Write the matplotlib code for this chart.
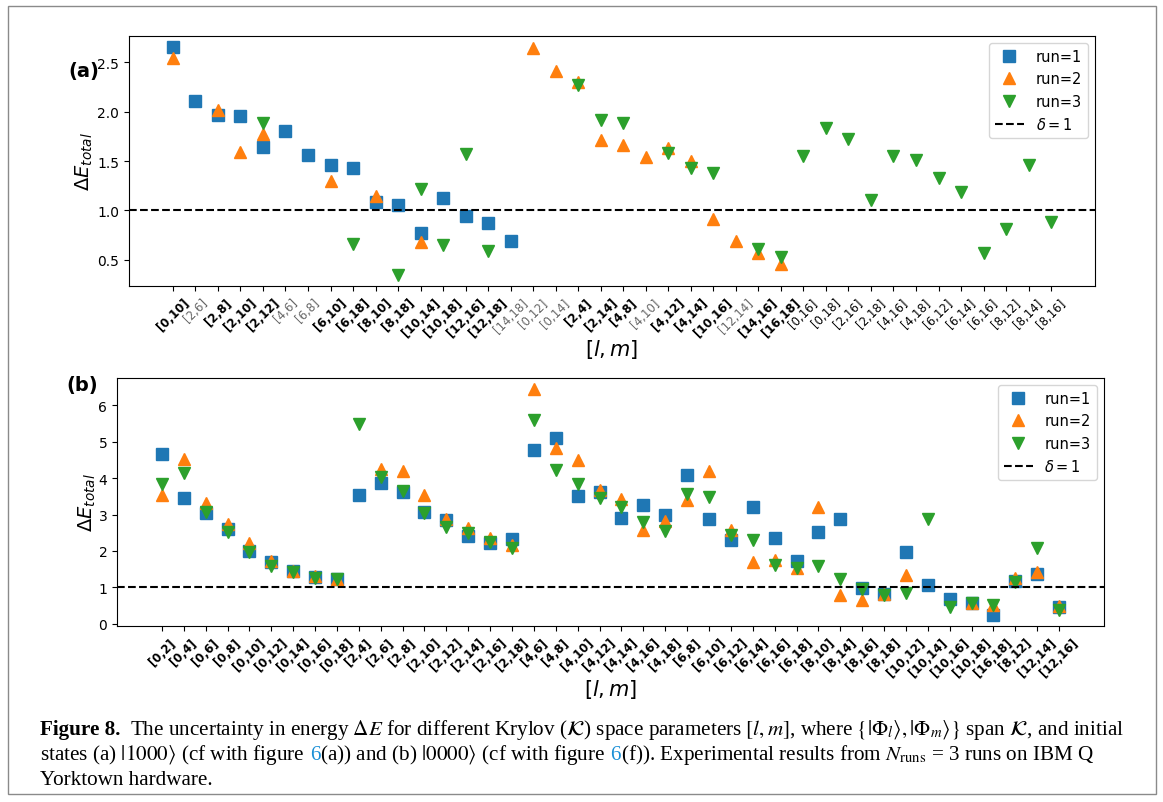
import numpy as np
import matplotlib
matplotlib.use("Agg")
import matplotlib.pyplot as plt
from matplotlib.patches import Rectangle
from matplotlib.transforms import IdentityTransform

nan = np.nan

# ---------------- data: panel (a), initial state |1000> ----------------
labels_a = ["[0,10]", "[2,6]", "[2,8]", "[2,10]", "[2,12]", "[4,6]", "[6,8]", "[6,10]",
            "[6,18]", "[8,10]", "[8,18]", "[10,14]", "[10,18]", "[12,16]", "[12,18]", "[14,18]",
            "[0,12]", "[0,14]", "[2,4]", "[2,14]", "[4,8]", "[4,10]", "[4,12]", "[4,14]",
            "[10,16]", "[12,14]", "[14,16]", "[16,18]", "[0,16]", "[0,18]", "[2,16]", "[2,18]",
            "[4,16]", "[4,18]", "[6,12]", "[6,14]", "[6,16]", "[8,12]", "[8,14]", "[8,16]"]
run1_a = [2.65, 2.11, 1.97, 1.96, 1.64, 1.80, 1.56, 1.46, 1.43, 1.09, 1.05, 0.77, 1.13, 0.94, 0.87, 0.69,
          nan, nan, nan, nan, nan, nan, nan, nan, nan, nan, nan, nan,
          nan, nan, nan, nan, nan, nan, nan, nan, nan, nan, nan, nan]
run2_a = [2.54, nan, 2.02, 1.59, 1.77, nan, nan, 1.30, nan, 1.15, nan, 0.68, nan, nan, nan, nan,
          2.64, 2.41, 2.30, 1.71, 1.66, 1.54, 1.63, 1.50, 0.91, 0.69, 0.57, 0.46,
          nan, nan, nan, nan, nan, nan, nan, nan, nan, nan, nan, nan]
run3_a = [nan, nan, nan, nan, 1.88, nan, nan, nan, 0.66, nan, 0.35, 1.22, 0.65, 1.57, 0.59, nan,
          nan, nan, 2.27, 1.91, 1.88, nan, 1.58, 1.43, 1.38, nan, 0.61, 0.53,
          1.55, 1.83, 1.72, 1.11, 1.55, 1.51, 1.33, 1.19, 0.57, 0.81, 1.46, 0.88]

# ---------------- data: panel (b), initial state |0000> ----------------
labels_b = ["[0,2]", "[0,4]", "[0,6]", "[0,8]", "[0,10]", "[0,12]", "[0,14]", "[0,16]", "[0,18]",
            "[2,4]", "[2,6]", "[2,8]", "[2,10]", "[2,12]", "[2,14]", "[2,16]", "[2,18]",
            "[4,6]", "[4,8]", "[4,10]", "[4,12]", "[4,14]", "[4,16]", "[4,18]",
            "[6,8]", "[6,10]", "[6,12]", "[6,14]", "[6,16]", "[6,18]",
            "[8,10]", "[8,14]", "[8,16]", "[8,18]", "[10,12]", "[10,14]", "[10,16]", "[10,18]",
            "[16,18]", "[8,12]", "[12,14]", "[12,16]"]
run1_b = [4.65, 3.45, 3.04, 2.60, 2.01, 1.69, 1.44, 1.29, 1.23, 3.54, 3.88, 3.63, 3.06, 2.86, 2.42, 2.21, 2.33,
          4.77, 5.11, 3.52, 3.63, 2.90, 3.27, 3.00, 4.10, 2.89, 2.30, 3.22, 2.36, 1.72,
          2.51, 2.89, 0.99, 0.82, 1.97, 1.07, 0.68, 0.57, 0.25, 1.17, 1.38, 0.45]
run2_b = [3.53, 4.52, 3.33, 2.73, 2.21, 1.72, 1.46, 1.32, 1.23, nan, 4.26, 4.19, 3.55, 2.88, 2.64, 2.37, 2.17,
          6.44, 4.84, 4.49, 3.68, 3.42, 2.58, 2.83, 3.40, 4.20, 2.57, 1.71, 1.74, 1.53,
          3.22, 0.78, 0.66, 0.82, 1.34, nan, nan, 0.58, 0.52, 1.26, 1.42, 0.48]
run3_b = [3.85, 4.13, 3.06, 2.53, 1.98, 1.60, 1.42, 1.26, 1.23, 5.50, 4.02, 3.66, 3.04, 2.65, 2.49, 2.24, 2.08,
          5.60, 4.23, 3.85, 3.45, 3.22, 2.80, 2.54, 3.56, 3.49, 2.45, 2.30, 1.62, 1.54,
          1.60, 1.23, 0.96, 0.80, 0.84, 2.88, 0.46, 0.57, 0.52, 1.14, 2.07, 0.37]

delta = 1.0

W, H = 1163, 803
fig = plt.figure(figsize=(W / 100, H / 100), dpi=100)
fig.patch.set_facecolor("white")

# figure frame
fig.add_artist(Rectangle((8 / W, 8 / H), (1156 - 8) / W, (796 - 8) / H,
                         transform=fig.transFigure, fill=False, edgecolor="#8a8a8a", lw=1.0))


def px_axes(l, r, t, b):
    return fig.add_axes([l / W, 1 - b / H, (r - l) / W, (b - t) / H])


ax_a = px_axes(129, 1095, 37, 287)
ax_b = px_axes(117, 1104, 379, 627)

ms = 8
for ax, labels, r1, r2, r3 in [(ax_a, labels_a, run1_a, run2_a, run3_a),
                               (ax_b, labels_b, run1_b, run2_b, run3_b)]:
    x = np.arange(len(labels))
    ax.plot(x, r1, ls="none", marker="s", ms=ms, color="tab:blue", label="run=1")
    ax.plot(x, r2, ls="none", marker="^", ms=ms, color="tab:orange", label="run=2")
    ax.plot(x, r3, ls="none", marker="v", ms=ms, color="tab:green", label="run=3")
    ax.axhline(delta, color="black", ls="--", lw=1.5, label=r"$\delta=1$")
    ax.set_xticks(x)
    ax.set_xticklabels(labels, rotation=45, fontsize=8.5)
    ax.set_xlim(-0.05 * (len(x) - 1), (len(x) - 1) * 1.05)
    ax.set_xlabel(r"$[l, m]$", fontsize=15)
    ax.set_ylabel(r"$\Delta E_{total}$", fontsize=14)
    ax.tick_params(axis="y", labelsize=10)
    ax.legend(loc="upper right", fontsize=10.5, handlelength=2.0)

ax_a.set_yticks([0.5, 1.0, 1.5, 2.0, 2.5])
ax_b.set_yticks([0, 1, 2, 3, 4, 5, 6])

# tick label appearance in (a): labels repeated by several runs look heavier
for tl, a, b, c in zip(ax_a.get_xticklabels(), run1_a, run2_a, run3_a):
    n = sum(not np.isnan(v) for v in (a, b, c))
    if n >= 2:
        tl.set_fontweight("bold")
    elif not np.isnan(c):
        tl.set_color("black")
    else:
        tl.set_color("#666666")
for tl in ax_b.get_xticklabels():
    tl.set_fontweight("bold")

ax_a.yaxis.set_label_coords(-0.035, 0.5)
ax_b.yaxis.set_label_coords(-0.019, 0.5)
ax_a.xaxis.set_label_coords(0.5, -0.205)
ax_b.xaxis.set_label_coords(0.5, -0.205)

fig.text(68 / W, 1 - 72 / H, "(a)", fontsize=14, fontweight="bold", va="center")
fig.text(66 / W, 1 - 386 / H, "(b)", fontsize=14, fontweight="bold", va="center")

# ---------------- caption ----------------
plt.rcParams["mathtext.fontset"] = "stix"
renderer = fig.canvas.get_renderer()
cap_font = "Liberation Serif"
link = "#1a8fd6"

line1 = [("Figure 8.", "black", "bold", 0.45),
         (r"The uncertainty in energy $\Delta E$ for different Krylov ($\mathcal{K}$) space parameters "
          r"$[l, m]$, where $\{|\Phi_l\rangle, |\Phi_m\rangle\}$ span $\mathcal{K}$, and initial",
          "black", "normal", 0.0)]
line2 = [(r"states (a) $|1000\rangle$ (cf with figure", "black", "normal", 0.25),
         ("6", link, "normal", 0.0),
         (r"(a)) and (b) $|0000\rangle$ (cf with figure", "black", "normal", 0.25),
         ("6", link, "normal", 0.0),
         (r"(f)). Experimental results from $N_{\rm runs}$ = 3 runs on IBM Q", "black", "normal", 0.0)]
line3 = [("Yorktown hardware.", "black", "normal", 0.0)]


def draw_line(pieces, x0, ybase, size):
    x = x0
    arts = []
    for txt, col, wt, gap in pieces:
        t = fig.text(x, ybase, txt, transform=IdentityTransform(), fontsize=size,
                     family=cap_font, color=col, fontweight=wt, va="baseline", ha="left")
        arts.append(t)
        w = t.get_window_extent(renderer).width
        x += w + gap * size * 100 / 72
    return arts, x - x0


size0 = 14
arts, wid = draw_line(line1, 40, H - 735, size0)
for a in arts:
    a.remove()
size = size0 * (1125 - 40) / wid
draw_line(line1, 40, H - 735, size)
draw_line(line2, 40, H - 760, size)
draw_line(line3, 40, H - 785, size)

fig.savefig("out.png", dpi=100)
